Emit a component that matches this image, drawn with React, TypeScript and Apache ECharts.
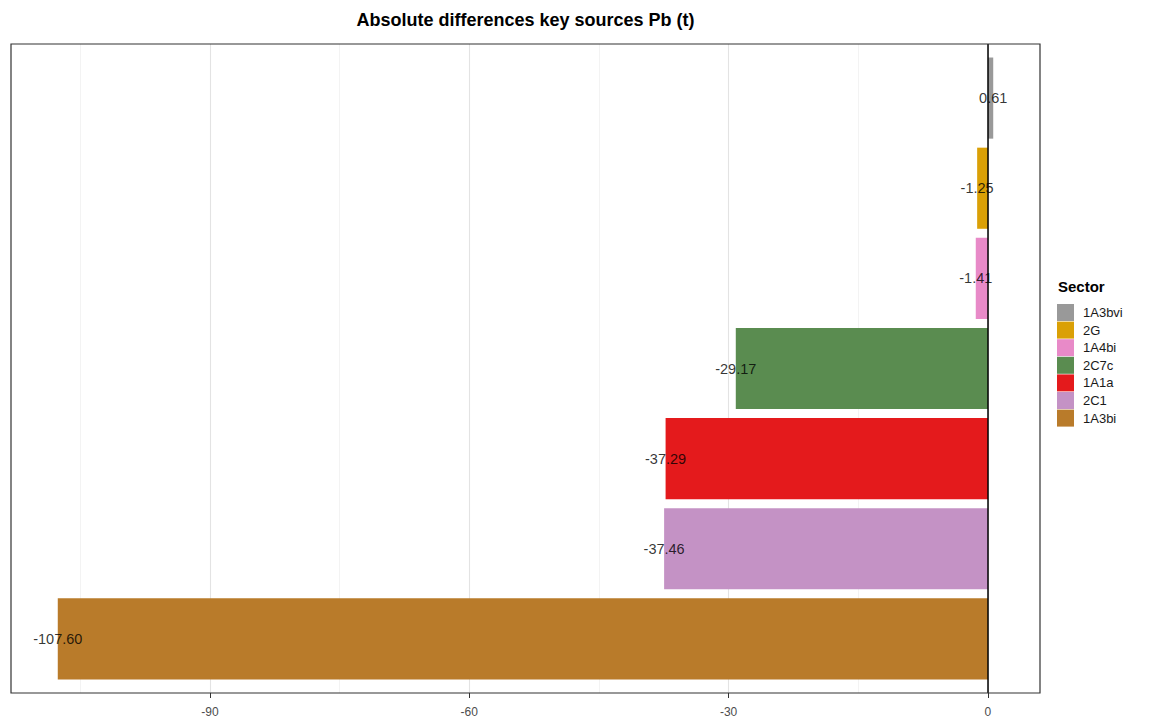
import React, { useEffect, useRef } from "react";
import * as echarts from "echarts";

const sectors = ["1A3bvi", "2G", "1A4bi", "2C7c", "1A1a", "2C1", "1A3bi"];
const values = [0.61, -1.25, -1.41, -29.17, -37.29, -37.46, -107.6];
const colors = ["#999999", "#DAA006", "#E88AC8", "#5A8C50", "#E41A1C", "#C492C5", "#B97B2A"];
const tickValues = [-90, -60, -30, 0];
const minorGrid = [-105, -75, -45, -15];
const xMin = -113.01;
const xMax = 6.02;

const PANEL = { left: 11, top: 44, right: 1040, bottom: 693 };

export default function App() {
  const ref = useRef<HTMLDivElement>(null);
  useEffect(() => {
    if (!ref.current) return;
    const chart = echarts.init(ref.current, undefined, { renderer: "svg" });
    const panelH = PANEL.bottom - PANEL.top;
    const unit = panelH / (sectors.length + 0.2);
    const innerTop = PANEL.top + unit * 0.1;
    const innerH = unit * sectors.length;

    const barSeries = sectors.map((s, i) => ({
      type: "bar",
      name: s,
      xAxisIndex: 1,
      yAxisIndex: 1,
      barWidth: "90%",
      barGap: "-100%",
      itemStyle: { color: colors[i] },
      data: sectors.map((_, j) => (j === i ? values[i] : "-")),
      z: 3,
    }));

    chart.setOption({
      animation: false,
      backgroundColor: "#ffffff",
      title: {
        text: "Absolute differences key sources Pb (t)",
        left: (PANEL.left + PANEL.right) / 2,
        textAlign: "center",
        top: 11,
        padding: 0,
        textStyle: { fontFamily: "Liberation Sans", fontSize: 18, fontWeight: "bold", color: "#000" },
      },
      legend: {
        orient: "vertical",
        left: 1057,
        top: 304,
        padding: 0,
        itemWidth: 17,
        itemHeight: 17,
        itemGap: 0.6,
        icon: "rect",
        data: sectors,
        textStyle: { fontFamily: "Liberation Sans", fontSize: 13, color: "#1a1a1a", padding: [0, 0, 0, 4] },
        selectedMode: false,
      },
      graphic: [
        {
          type: "text",
          left: 1058,
          top: 279,
          style: { text: "Sector", font: "bold 15px 'Liberation Sans'", fill: "#000" },
        },
        {
          type: "rect",
          shape: { x: PANEL.left, y: PANEL.top, width: PANEL.right - PANEL.left, height: panelH },
          style: { fill: "none", stroke: "#333333", lineWidth: 1.2 },
          z: 100,
          silent: true,
        },
      ],
      grid: [
        { left: PANEL.left, top: PANEL.top, width: PANEL.right - PANEL.left, height: panelH, show: false },
        { left: PANEL.left, top: innerTop, width: PANEL.right - PANEL.left, height: innerH, show: false },
      ],
      xAxis: [
        {
          type: "value",
          gridIndex: 0,
          min: xMin,
          max: xMax,
          axisLine: { show: false },
          splitLine: { show: false },
          axisTick: { show: true, customValues: tickValues, length: 5, lineStyle: { color: "#333333" } },
          axisLabel: {
            customValues: tickValues,
            fontFamily: "Liberation Sans",
            fontSize: 12,
            color: "#4d4d4d",
            margin: 13,
          },
        },
        {
          type: "value",
          gridIndex: 1,
          min: xMin,
          max: xMax,
          show: false,
        },
      ],
      yAxis: [
        { type: "value", gridIndex: 0, min: 0, max: 1, show: false },
        {
          type: "category",
          gridIndex: 1,
          data: sectors,
          inverse: true,
          show: false,
        },
      ],
      series: [
        {
          type: "line",
          xAxisIndex: 0,
          yAxisIndex: 0,
          data: [],
          silent: true,
          z: 1,
          markLine: {
            silent: true,
            z: 1,
            symbol: "none",
            label: { show: false },
            data: [
              ...minorGrid.map((v) => ({ xAxis: v, lineStyle: { color: "#EBEBEB", width: 0.6, type: "solid" } })),
              ...tickValues.map((v) => ({ xAxis: v, lineStyle: { color: "#E3E3E3", width: 1.1, type: "solid" } })),
            ],
          },
        },
        ...barSeries,
        {
          type: "line",
          xAxisIndex: 0,
          yAxisIndex: 0,
          data: [],
          silent: true,
          z: 6,
          markLine: {
            silent: true,
            z: 6,
            symbol: "none",
            label: { show: false },
            data: [{ xAxis: 0, lineStyle: { color: "#000000", width: 1.5, type: "solid" } }],
          },
        },
        {
          type: "scatter",
          xAxisIndex: 1,
          yAxisIndex: 1,
          symbolSize: 0,
          silent: true,
          data: sectors.map((s, i) => [values[i], s]),
          label: {
            show: true,
            position: "inside",
            formatter: (p: any) => Number(p.value[0]).toFixed(2),
            fontFamily: "Liberation Sans",
            fontSize: 14.5,
            color: "#000",
          },
          z: 10,
        },
      ],
    });
    return () => chart.dispose();
  }, []);
  return <div ref={ref} style={{ width: 1164, height: 724, position: "absolute", left: 0, top: 0 }} />;
}
